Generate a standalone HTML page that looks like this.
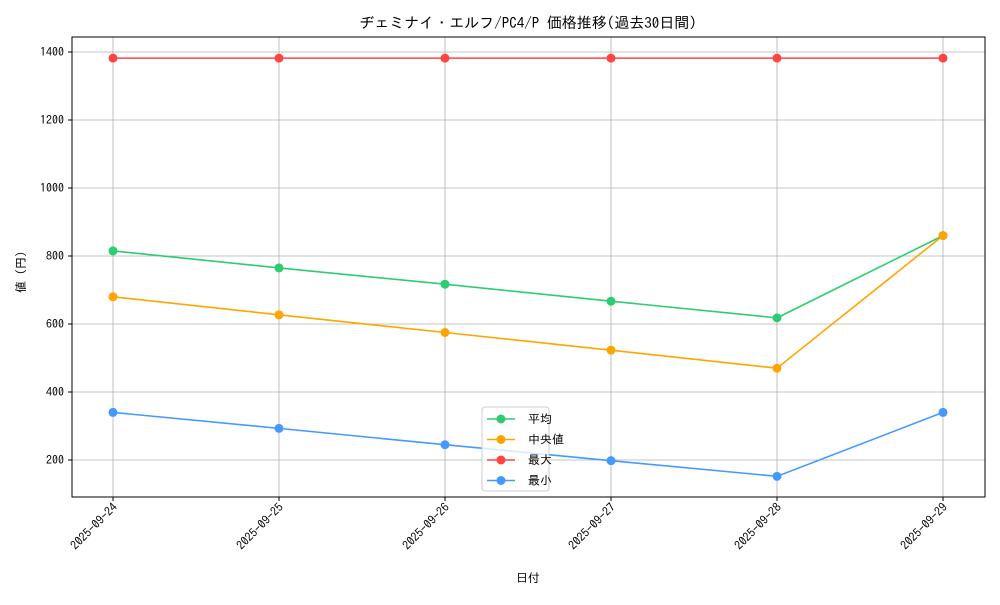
<!DOCTYPE html>
<html><head><meta charset="utf-8">
<style>
body{margin:0;background:#fff;}
svg text{font-family:"IPAGothic","Noto Sans CJK JP",sans-serif;fill:#000;}
</style></head>
<body>
<svg id="chart" width="1000" height="600" xmlns="http://www.w3.org/2000/svg">
<rect width="1000" height="600" fill="#fff"/>
<text x="528" y="28" font-size="15" text-anchor="middle">ヂェミナイ・エルフ/PC4/P 価格推移(過去30日間)</text>
<g id="grid"></g>
<g id="axes"></g>
<g id="series"></g>
<rect x="72" y="37" width="913" height="460" fill="none" stroke="#000" stroke-width="1"/>
<text x="528" y="582" font-size="12" text-anchor="middle">日付</text>
<text transform="translate(25,269) rotate(-90)" font-size="12" text-anchor="middle">値（円）</text>
<g id="legend"></g>
</svg>
<script>
const categories=["2025-09-24","2025-09-25","2025-09-26","2025-09-27","2025-09-28","2025-09-29"];
const avgValues=[815,765,717,667,618,860];
const medianValues=[680,627,575,523,470,860];
const maxValues=[1382,1382,1382,1382,1382,1382];
const minValues=[340,293,245,198,152,340];
const yTicks=[200,400,600,800,1000,1200,1400];
const seriesNames=["平均","中央値","最大","最小"];
const NS="http://www.w3.org/2000/svg";
function xPos(i){return 113+i*166;}
function yPos(v){return 460-(v-200)*0.34;}
function mk(tag,attrs,parent){const e=document.createElementNS(NS,tag);for(const k in attrs)e.setAttribute(k,attrs[k]);parent.appendChild(e);return e;}
const grid=document.getElementById('grid'),axes=document.getElementById('axes'),ser=document.getElementById('series'),leg=document.getElementById('legend');
yTicks.forEach(t=>{const y=yPos(t);
 const g=mk('line',{x1:72,x2:985,y1:y,y2:y,stroke:'#b0b0b0','stroke-width':0.8},grid);
 
 
 mk('line',{x1:68,x2:72,y1:y,y2:y,stroke:'#000'},axes);
 const tx=mk('text',{x:64,y:y+4,'font-size':12,'text-anchor':'end'},axes);tx.textContent=t;
 
 
});
categories.forEach((c,i)=>{const x=xPos(i);
 const g=mk('line',{x1:x,x2:x,y1:37,y2:497,stroke:'#b0b0b0','stroke-width':0.8},grid);
 
 
 mk('line',{x1:x,x2:x,y1:497,y2:501,stroke:'#000'},axes);
 const tx=mk('text',{x:x+5,y:508,'font-size':12,'text-anchor':'end',transform:`rotate(-45 ${x+5} 508)`},axes);tx.textContent=c;
 
 
});
const all=[[avgValues,'#2ecc71'],[medianValues,'#ffa500'],[maxValues,'#ff4444'],[minValues,'#4499ff']];
all.forEach(([vals,col],si)=>{
 const g=mk('g',{},ser);
 
 
 mk('polyline',{points:vals.map((v,i)=>xPos(i)+','+yPos(v)).join(' '),fill:'none',stroke:col,'stroke-width':1.6},g);
 vals.forEach((v,i)=>{const c=mk('circle',{cx:xPos(i),cy:yPos(v),r:4.5,fill:col},g);
  
  });
});
mk('rect',{x:482,y:407,width:67,height:84,rx:3,fill:'#fff','fill-opacity':0.8,stroke:'#ccc'},leg);


all.forEach(([v,col],i)=>{const y=419+i*20.5;
 const e=mk('g',{},leg);
 
 
 mk('line',{x1:487,x2:515,y1:y,y2:y,stroke:col,'stroke-width':1.6},e);
 mk('circle',{cx:501,cy:y,r:4.5,fill:col},e);
 const t=mk('text',{x:528,y:y+4,'font-size':12},e);t.textContent=seriesNames[i];
});
</script>
</body></html>
